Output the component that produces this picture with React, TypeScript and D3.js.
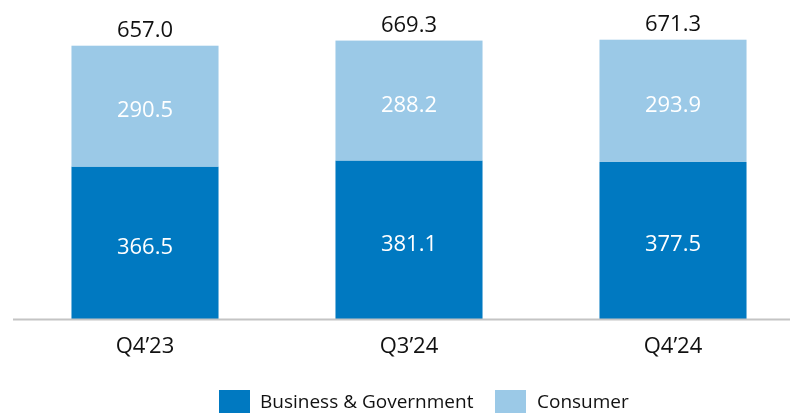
import React from 'react';
import * as d3 from 'd3';

const categories = ['Q4\u201923', 'Q3\u201924', 'Q4\u201924'];
const business = [366.5, 381.1, 377.5];
const consumer = [290.5, 288.2, 293.9];
const totals = [657.0, 669.3, 671.3];
const seriesNames = ['Business & Government', 'Consumer'];
const colors = ['#0079c1', '#9bc9e7'];

const width = 790;
const height = 413;
const baseline = 319;
const font = '"Open Sans", sans-serif';

export default function App() {
  const x = d3.scaleBand<string>()
    .domain(categories)
    .range([13, 805])
    .paddingInner(0.443)
    .paddingOuter(0.2215);

  const y = d3.scaleLinear()
    .domain([0, 657])
    .range([baseline, 45.7]);

  const rows = categories.map((c, i) => ({ cat: c, business: business[i], consumer: consumer[i] }));
  const stack = d3.stack<any>().keys(['business', 'consumer']);
  const layers = stack(rows);

  return (
    <div style={{ position: 'fixed', left: 0, top: 0 }}>
      <svg width={width} height={height} style={{ display: 'block', fontFamily: font }}>
        {layers.map((layer, li) => (
          <g key={li} fill={colors[li]}>
            {layer.map((d, i) => {
              const x0 = x(categories[i])!;
              const y0 = y(d[1]);
              const h = y(d[0]) - y(d[1]);
              return (
                <g key={i}>
                  <rect x={x0} y={y0} width={x.bandwidth()} height={h} />
                  <text
                    x={x0 + x.bandwidth() / 2}
                    y={y0 + h / 2}
                    dy="0.5em"
                    textAnchor="middle"
                    fill="#fff"
                    fontSize={22}
                  >
                    {(d[1] - d[0]).toFixed(1)}
                  </text>
                </g>
              );
            })}
          </g>
        ))}
        <line x1={13} x2={width} y1={baseline + 0.5} y2={baseline + 0.5} stroke="#c4c4c4" strokeWidth={2} />
        {totals.map((t, i) => (
          <text
            key={i}
            x={x(categories[i])! + x.bandwidth() / 2}
            y={y(t) - 9}
            textAnchor="middle"
            fill="#111"
            fontSize={22}
          >
            {t.toFixed(1)}
          </text>
        ))}
        {categories.map((c) => (
          <text
            key={c}
            x={x(c)! + x.bandwidth() / 2}
            y={353}
            textAnchor="middle"
            fill="#111"
            fontSize={22}
          >
            {c}
          </text>
        ))}
        <g>
          <rect x={219} y={390} width={31} height={23} fill={colors[0]} />
          <text x={260} y={408} fontSize={19} fill="#111">{seriesNames[0]}</text>
          <rect x={495} y={390} width={31} height={23} fill={colors[1]} />
          <text x={537} y={408} fontSize={19} fill="#111">{seriesNames[1]}</text>
        </g>
      </svg>
    </div>
  );
}
